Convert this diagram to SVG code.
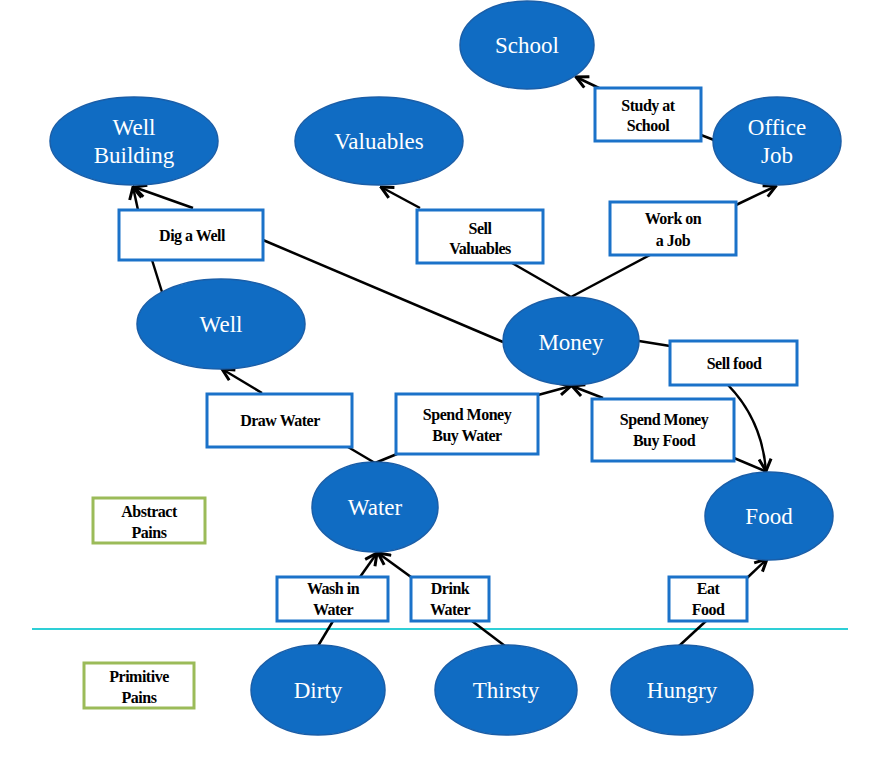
<svg xmlns="http://www.w3.org/2000/svg" width="878" height="760" viewBox="0 0 878 760">
<style>
.node ellipse{fill:#106cc3;stroke:#1a5ea8;stroke-width:1.5}
.node text{fill:#ffffff;font-family:"Liberation Serif","DejaVu Serif",serif;font-size:23px;text-anchor:middle;dominant-baseline:central}
.lbl rect{fill:#ffffff;stroke:#1b72c9;stroke-width:3}
.lbl text{fill:#000000;font-family:"Liberation Serif","DejaVu Serif",serif;font-size:16px;font-weight:bold;text-anchor:middle;dominant-baseline:central;letter-spacing:-0.5px}
.pain rect{fill:#ffffff;stroke:#9bbb59;stroke-width:3}
.conn path{fill:none;stroke:#000000;stroke-width:2.5}
</style>
<defs>
<marker id="arr" viewBox="0 0 10 10" refX="9" refY="5" markerWidth="6" markerHeight="6" orient="auto" markerUnits="strokeWidth">
<path d="M1,1 L9,5 L1,9" fill="none" stroke="#000000" stroke-width="2"/>
</marker>
</defs>
<rect width="878" height="760" fill="#ffffff"/>
<line x1="32" y1="629" x2="848" y2="629" stroke="#2ecfd6" stroke-width="2"/>
<g class="conn">
<path d="M318,646 L333,621"/>
<path d="M360,577 L377,553" marker-end="url(#arr)"/>
<path d="M505,646 L472,621"/>
<path d="M411,577 L378,553" marker-end="url(#arr)"/>
<path d="M679,646 L706,621"/>
<path d="M747,578 L767,559" marker-end="url(#arr)"/>
<path d="M375,463 L348,447"/>
<path d="M375,463 L397,454"/>
<path d="M262,393 L222,369" marker-end="url(#arr)"/>
<path d="M538,395 L571,386" marker-end="url(#arr)"/>
<path d="M603,398 L572,386" marker-end="url(#arr)"/>
<path d="M767,472 L734,458"/>
<path d="M639,341 L670,346"/>
<path d="M728,385 Q762,420 766,471" marker-end="url(#arr)"/>
<path d="M162,292 L152,260"/>
<path d="M138,210 L133,187" marker-end="url(#arr)"/>
<path d="M503,342 L263,240"/>
<path d="M193,208 L134,187" marker-end="url(#arr)"/>
<path d="M571,297 L512,263"/>
<path d="M420,208 L381,187" marker-end="url(#arr)"/>
<path d="M571,297 L650,255"/>
<path d="M736,205 L776,186" marker-end="url(#arr)"/>
<path d="M714,140 L701,135"/>
<path d="M599,88 L576,77" marker-end="url(#arr)"/>
</g>
<g id="school" class="node"><ellipse cx="527" cy="45" rx="67" ry="44"/><text x="527" y="45">School</text></g>
<g id="well-building" class="node"><ellipse cx="134" cy="141" rx="84" ry="44"/><text x="134" y="127">Well</text><text x="134" y="155">Building</text></g>
<g id="valuables" class="node"><ellipse cx="379" cy="141" rx="84" ry="44"/><text x="379" y="141">Valuables</text></g>
<g id="office-job" class="node"><ellipse cx="777" cy="141" rx="64" ry="44"/><text x="777" y="127">Office</text><text x="777" y="155">Job</text></g>
<g id="well" class="node"><ellipse cx="221" cy="324" rx="84" ry="45"/><text x="221" y="324">Well</text></g>
<g id="money" class="node"><ellipse cx="571" cy="341" rx="68" ry="44"/><text x="571" y="342">Money</text></g>
<g id="water" class="node"><ellipse cx="375" cy="507" rx="63" ry="45"/><text x="375" y="507">Water</text></g>
<g id="food" class="node"><ellipse cx="769" cy="516" rx="64" ry="44"/><text x="769" y="516">Food</text></g>
<g id="dirty" class="node"><ellipse cx="318" cy="690" rx="67" ry="45"/><text x="318" y="690">Dirty</text></g>
<g id="thirsty" class="node"><ellipse cx="506" cy="690" rx="71" ry="45"/><text x="506" y="690">Thirsty</text></g>
<g id="hungry" class="node"><ellipse cx="682" cy="690" rx="71" ry="45"/><text x="682" y="690">Hungry</text></g>
<g id="lbl-study" class="lbl"><rect x="595" y="88" width="106" height="53"/><text x="648" y="105">Study at</text><text x="648" y="125">School</text></g>
<g id="lbl-dig" class="lbl"><rect x="119" y="210" width="144" height="50"/><text x="192" y="235">Dig a Well</text></g>
<g id="lbl-sellval" class="lbl"><rect x="417" y="210" width="126" height="53"/><text x="480" y="228">Sell</text><text x="480" y="248">Valuables</text></g>
<g id="lbl-work" class="lbl"><rect x="610" y="202" width="126" height="53"/><text x="673" y="218">Work on</text><text x="673" y="240">a Job</text></g>
<g id="lbl-draw" class="lbl"><rect x="207" y="394" width="145" height="53"/><text x="280" y="420">Draw Water</text></g>
<g id="lbl-buywater" class="lbl"><rect x="396" y="394" width="142" height="60"/><text x="467" y="414">Spend Money</text><text x="467" y="435">Buy Water</text></g>
<g id="lbl-sellfood" class="lbl"><rect x="670" y="341" width="127" height="44"/><text x="734" y="363">Sell food</text></g>
<g id="lbl-buyfood" class="lbl"><rect x="592" y="399" width="142" height="62"/><text x="664" y="419">Spend Money</text><text x="664" y="440">Buy Food</text></g>
<g id="lbl-wash" class="lbl"><rect x="277" y="577" width="111" height="44"/><text x="333" y="588">Wash in</text><text x="333" y="609">Water</text></g>
<g id="lbl-drink" class="lbl"><rect x="411" y="577" width="78" height="44"/><text x="450" y="588">Drink</text><text x="450" y="609">Water</text></g>
<g id="lbl-eat" class="lbl"><rect x="669" y="577" width="78" height="44"/><text x="708" y="588">Eat</text><text x="708" y="609">Food</text></g>
<g id="abstract-pains" class="lbl pain"><rect x="93" y="498" width="112" height="45"/><text x="149" y="511">Abstract</text><text x="149" y="532">Pains</text></g>
<g id="primitive-pains" class="lbl pain"><rect x="84" y="663" width="110" height="45"/><text x="139" y="676">Primitive</text><text x="139" y="697">Pains</text></g>
</svg>
